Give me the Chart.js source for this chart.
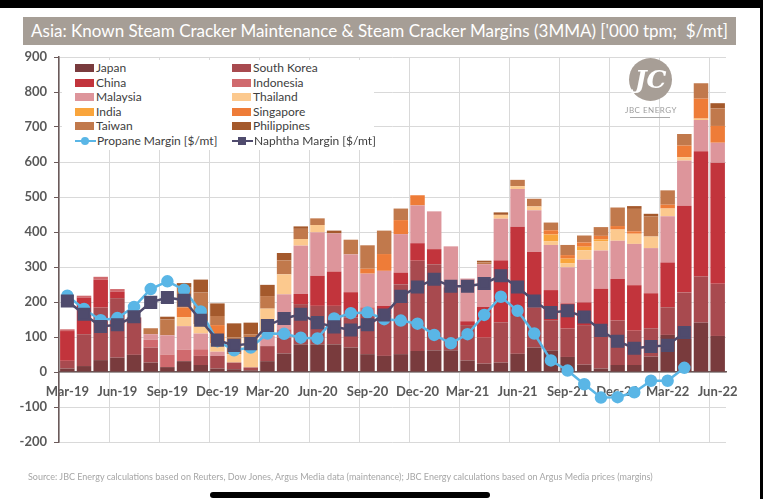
<!DOCTYPE html>
<html>
<head>
<meta charset="utf-8">
<script src="https://cdn.jsdelivr.net/npm/chart.js@4.4.1/dist/chart.umd.min.js"></script>
<style>
  html, body { margin: 0; padding: 0; background: #fff; }
  body { width: 763px; height: 499px; position: relative; overflow: hidden; font-family: Lato, "Open Sans", sans-serif; }
  #wrap { position: absolute; left: 0; top: 0; width: 763px; height: 499px; }
  .topband { position: absolute; left: 0; top: 0; width: 763px; height: 8px; background: #000; }
  .rightband { position: absolute; right: 0; top: 0; width: 3px; height: 499px; background: #000; }
  .homebar { position: absolute; left: 210px; top: 492px; width: 280px; height: 6px; border-radius: 3px; background: #000; }
  .title { position: absolute; left: 23px; top: 17px; width: 713px; height: 28px; line-height: 28px; background: #a69e96;
           color: #fff; font-size: 17px; text-align: center; white-space: nowrap; }
  .legend { position: absolute; left: 62px; top: 60px; width: 312px; height: 90px; background: #fff; }
  .item { position: absolute; height: 14px; line-height: 14px; font-size: 12px; color: #404040; white-space: nowrap; }
  .sw { display: inline-block; width: 19px; height: 8px; vertical-align: middle; margin-right: 2px; position: relative; top: -1px; }
  .ln { display: inline-block; width: 21px; height: 14px; vertical-align: middle; position: relative; margin-right: 1px; top: -1px; }
  .ln i { position: absolute; left: 0; top: 6px; width: 21px; height: 2.5px; }
  .ln b { position: absolute; left: 6px; top: 3px; width: 8px; height: 8px; }
  .source { position: absolute; left: 28px; top: 471px; font-size: 9px; color: #a6a6a6; white-space: nowrap; }
  .logo { position: absolute; left: 629px; top: 58px; width: 43px; height: 43px; border-radius: 50%; background: #a79e96;
          color: #fff; font: italic bold 25px "DejaVu Serif", serif; text-align: center; line-height: 43px; }
  .logotxt { position: absolute; left: 615px; top: 105px; width: 72px; text-align: center; font-size: 8px; color: #9c9c9c; letter-spacing: 0.5px; }
  .logoline { position: absolute; left: 630px; top: 117px; width: 40px; height: 1px; background: #aaa; }
</style>
</head>
<body>
<div class="topband"></div>
<div class="title">Asia: Known Steam Cracker Maintenance &amp; Steam Cracker Margins (3MMA) ['000 tpm;&nbsp; $/mt]</div>
<div id="wrap"><canvas id="chart"></canvas></div>
<div class="legend" id="legend"></div>
<div class="logo">JC</div>
<div class="logotxt">JBC ENERGY</div>
<div class="logoline"></div>
<div class="source">Source: JBC Energy calculations based on Reuters, Dow Jones, Argus Media data (maintenance); JBC Energy calculations based on Argus Media prices (margins)</div>
<div class="rightband"></div>
<div class="homebar"></div>
<script>
// meses (3MMA), Mar-19 .. Jun-22
const meses = ['Mar-19','Apr-19','May-19','Jun-19','Jul-19','Aug-19','Sep-19','Oct-19','Nov-19','Dec-19',
  'Jan-20','Feb-20','Mar-20','Apr-20','May-20','Jun-20','Jul-20','Aug-20','Sep-20','Oct-20',
  'Nov-20','Dec-20','Jan-21','Feb-21','Mar-21','Apr-21','May-21','Jun-21','Jul-21','Aug-21',
  'Sep-21','Oct-21','Nov-21','Dec-21','Jan-22','Feb-22','Mar-22','Apr-22','May-22','Jun-22'];

const yTicks = [-200, -100, 0, 100, 200, 300, 400, 500, 600, 700, 800, 900];

// mantenimiento ['000 tpm]
const japan = [10,17,34,41,49,27,14,31,20,10, 8,5,31,53,79,79,79,70,51,46, 51,60,62,62,33,24,27,52,70,62, 43,21,10,20,20,44,106,96,141,103];
const southKorea = [22,91,150,170,107,43,0,0,26,36, 19,8,43,45,115,110,110,86,115,119, 200,258,246,180,101,74,115,108,115,86, 81,113,119,127,98,81,79,131,132,149];
const china = [85,105,80,18,0,0,0,0,0,0, 0,0,0,0,29,86,98,72,0,24, 33,50,43,0,11,88,177,255,158,86, 72,65,109,119,130,100,128,248,358,346];
const indonesia = [5,5,8,8,0,22,36,33,19,0, 0,0,0,24,0,0,0,0,19,0, 0,0,0,0,0,0,0,0,0,0, 0,0,0,0,0,0,0,0,0,0];
const malaysia = [0,0,0,0,0,16,55,67,45,12, 0,0,29,100,138,124,109,108,96,100, 110,108,108,117,122,122,119,108,119,129, 103,122,109,109,118,129,132,129,89,57];
const thailand = [0,0,0,0,0,0,0,26,27,24, 24,85,78,57,19,21,0,0,0,0, 0,0,0,0,0,0,11,8,11,10, 11,27,27,32,29,33,22,10,4,0];
const india = [0,0,0,0,0,0,0,0,0,0, 0,0,0,0,0,0,0,0,0,0, 0,0,0,0,0,0,0,0,0,20, 14,10,5,0,0,0,0,0,0,0];
const singapore = [0,0,0,0,0,0,0,27,0,52, 0,0,0,0,0,0,0,0,14,48, 40,29,0,0,0,0,0,0,0,12, 10,12,10,10,7,0,11,33,57,48];
const taiwan = [0,0,0,0,0,17,45,57,90,26, 48,10,36,40,29,19,0,42,67,67, 33,0,0,0,0,5,0,18,22,22, 29,20,25,53,64,57,41,33,44,50];
const philippines = [0,0,0,0,0,0,8,13,37,36, 40,33,32,21,7,0,8,0,0,0, 0,0,0,0,0,5,7,0,0,0, 0,0,0,0,8,8,0,0,0,15];

// margenes [$/mt]
const propane = [218,180,148,154,186,237,259,235,173,88, 62,70,110,109,98,96,153,168,170,151, 147,138,106,82,108,163,215,175,110,33, 4,-35,-73,-72,-58,-25,-25,12,null,null];
const naphtha = [203,165,130,135,158,199,213,205,148,91, 76,81,133,153,165,141,129,120,135,163, 216,243,265,245,245,253,275,243,203,170, 175,157,119,88,68,73,76,113,null,null];

const paises = [
  { label: 'Japan', data: japan, color: '#793b3d' },
  { label: 'South Korea', data: southKorea, color: '#a84a4f' },
  { label: 'China', data: china, color: '#c2343c' },
  { label: 'Indonesia', data: indonesia, color: '#d06a6e' },
  { label: 'Malaysia', data: malaysia, color: '#dd959b' },
  { label: 'Thailand', data: thailand, color: '#fcc98e' },
  { label: 'India', data: india, color: '#f9a53c' },
  { label: 'Singapore', data: singapore, color: '#ee7c38' },
  { label: 'Taiwan', data: taiwan, color: '#c1794c' },
  { label: 'Philippines', data: philippines, color: '#a4592c' }
];
const colorPropano = '#5ab6e6';
const colorNafta = '#4f4b6d';
const ejeColor = '#6b5a5a';
const gridColor = '#d9d9d9';

const datasets = paises.map(p => ({
  type: 'bar', label: p.label, data: p.data, backgroundColor: p.color,
  stack: 'mant', order: 2, barPercentage: 0.87, categoryPercentage: 1
}));
datasets.push({
  type: 'line', label: 'Naphtha Margin [$/mt]', data: naphtha, stack: 'nafta', order: 0,
  borderColor: colorNafta, backgroundColor: colorNafta, borderWidth: 2.5,
  pointStyle: 'rect', pointRadius: 7.5, tension: 0
});
datasets.push({
  type: 'line', label: 'Propane Margin [$/mt]', data: propane, stack: 'propano', order: 1,
  borderColor: colorPropano, backgroundColor: colorPropano, borderWidth: 2.5,
  pointStyle: 'circle', pointRadius: 5, tension: 0
});

const fuenteEje = { family: 'Lato', size: 13, weight: 'bold' };

new Chart(document.getElementById('chart').getContext('2d'), {
  type: 'bar',
  data: { labels: meses, datasets },
  options: {
    responsive: true,
    maintainAspectRatio: false,
    animation: false,
    layout: { padding: { left: 0, top: 57, right: 37, bottom: 57 } },
    plugins: { legend: { display: false }, tooltip: { enabled: false }, title: { display: false } },
    scales: {
      x: {
        stacked: true,
        position: { y: 0 },
        offset: true,
        grid: {
          offset: true,
          drawTicks: false,
          color: ctx => (ctx.index % 3 === 0 || ctx.index === meses.length) ? gridColor : 'rgba(0,0,0,0)'
        },
        border: { color: ejeColor, width: 1.5 },
        ticks: {
          autoSkip: false, maxRotation: 0, minRotation: 0, padding: 12,
          color: '#595959', font: fuenteEje,
          callback: (v, i) => i % 3 === 0 ? meses[i] : ''
        }
      },
      y: {
        stacked: true,
        min: yTicks[0],
        max: yTicks[yTicks.length - 1],
        afterBuildTicks: s => { s.ticks = yTicks.map(v => ({ value: v })); },
        afterFit: s => { s.width = 59; },
        grid: { color: gridColor, tickLength: 5, tickColor: ejeColor },
        border: { color: ejeColor, width: 1.5 },
        ticks: { padding: 7, color: '#595959', font: fuenteEje }
      }
    }
  }
});

// leyenda en dos columnas, dentro del area del grafico
const leyenda = document.getElementById('legend');
const entradas = paises.map(p => ({ label: p.label, color: p.color }));
entradas.push({ label: 'Propane Margin [$/mt]', color: colorPropano, line: 'circle' });
entradas.push({ label: 'Naphtha Margin [$/mt]', color: colorNafta, line: 'rect' });
entradas.forEach((e, i) => {
  const div = document.createElement('div');
  div.className = 'item';
  div.style.left = (i % 2 === 0 ? 13 : 170) + 'px';
  div.style.top = (1 + Math.floor(i / 2) * 14.6) + 'px';
  if (e.line) {
    const r = e.line === 'circle' ? '50%' : '0';
    div.innerHTML = `<span class="ln"><i style="background:${e.color}"></i><b style="background:${e.color};border-radius:${r}"></b></span>${e.label}`;
  } else {
    div.innerHTML = `<span class="sw" style="background:${e.color}"></span>${e.label}`;
  }
  leyenda.appendChild(div);
});
</script>
</body>
</html>
